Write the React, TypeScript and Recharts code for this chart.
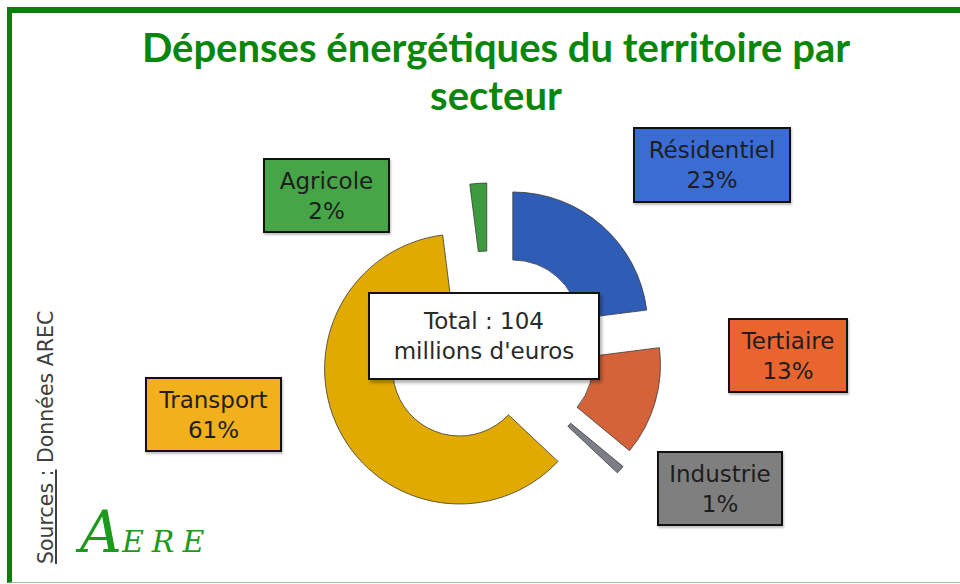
import React from "react";
import { PieChart, Pie, Cell } from "recharts";

// values (percent of total spending)
const sectors = ["Résidentiel", "Tertiaire", "Industrie", "Transport", "Agricole"];
const shares = [23, 13, 1, 61, 2];
const totalLines = ["Total : 104", "millions d'euros"];
const titleLines = ["Dépenses énergétiques du territoire par", "secteur"];

const sliceColors = ["#2f5cb4", "#d5633a", "#7b7e86", "#e0aa00", "#3d9b3d"];
const boxColors = ["#3b6cd3", "#ea6430", "#7f7f7f", "#f1b01c", "#46a546"];
// how far each slice is pulled out of the ring
const explode = [36, 38, 40, 33, 36];
const boxPos = [
  { left: 633, top: 127, width: 158, height: 76 },
  { left: 728, top: 318, width: 120, height: 75 },
  { left: 657, top: 451, width: 126, height: 75 },
  { left: 145, top: 377, width: 137, height: 75 },
  { left: 263, top: 158, width: 127, height: 75 },
];

const CX = 489;
const CY = 354;
const TITLE_FONT = 'Lato, "Noto Sans", sans-serif';
const FONT = '"DejaVu Sans", "Noto Sans", sans-serif';

const data = sectors.map((name, i) => ({ name, value: shares[i] }));
const total = shares.reduce((a, b) => a + b, 0);
let acc = 0;
const midAngles = shares.map((v) => {
  const m = ((acc + v / 2) / total) * 360;
  acc += v;
  return m;
});

function LabelBox({ i }: { i: number }) {
  const p = boxPos[i];
  return (
    <div
      style={{
        position: "absolute",
        left: p.left,
        top: p.top,
        width: p.width,
        height: p.height,
        boxSizing: "border-box",
        background: boxColors[i],
        border: "2px solid #111",
        boxShadow: "1px 2px 2px rgba(0,0,0,0.25)",
        display: "flex",
        flexDirection: "column",
        alignItems: "center",
        justifyContent: "center",
        fontFamily: FONT,
        fontSize: 23,
        lineHeight: "30px",
        color: "#1e1e1e",
        whiteSpace: "nowrap",
      }}
    >
      <span>{sectors[i]}</span>
      <span>{shares[i]}%</span>
    </div>
  );
}

export default function App() {
  return (
    <div
      style={{
        position: "absolute",
        left: 0,
        top: 0,
        width: 960,
        height: 584,
        overflow: "hidden",
        background: "#fff",
      }}
    >
      {/* frame */}
      <div
        style={{
          position: "absolute",
          left: 7,
          top: 7,
          width: 980,
          height: 576,
          boxSizing: "border-box",
          borderTop: "6px solid #0a800a",
          borderLeft: "5px solid #0a800a",
          borderBottom: "1px solid #9cc99c",
        }}
      />

      {/* title */}
      <div
        style={{
          position: "absolute",
          left: 0,
          top: 23,
          width: 992,
          textAlign: "center",
          fontFamily: TITLE_FONT,
          fontWeight: 700,
          fontSize: 40,
          lineHeight: "48px",
          color: "#0a870a",
        }}
      >
        {titleLines.map((t) => (
          <div key={t}>{t}</div>
        ))}
      </div>

      <div style={{ position: "absolute", left: 0, top: 0 }}>
        <PieChart width={960} height={584} margin={{ top: 0, right: 0, bottom: 0, left: 0 }}>
          {sectors.map((name, i) => {
            const a = (midAngles[i] * Math.PI) / 180;
            return (
              <Pie
                key={name}
                data={data}
                dataKey="value"
                nameKey="name"
                cx={CX + Math.sin(a) * explode[i]}
                cy={CY - Math.cos(a) * explode[i]}
                innerRadius={67}
                outerRadius={135}
                startAngle={90}
                endAngle={-270}
                stroke="none"
                legendType="none"
                isAnimationActive={false}
              >
                {data.map((d, j) => (
                  <Cell
                    key={d.name}
                    fill={j === i ? sliceColors[i] : "none"}
                    stroke={j === i ? "#3a3a3a" : "none"}
                    strokeWidth={0.8}
                  />
                ))}
              </Pie>
            );
          })}
        </PieChart>
      </div>

      {sectors.map((s, i) => (
        <LabelBox key={s} i={i} />
      ))}

      {/* total box */}
      <div
        style={{
          position: "absolute",
          left: 368,
          top: 292,
          width: 232,
          height: 88,
          boxSizing: "border-box",
          background: "#fff",
          border: "2px solid #111",
          boxShadow: "2px 3px 3px rgba(0,0,0,0.3)",
          display: "flex",
          flexDirection: "column",
          alignItems: "center",
          justifyContent: "center",
          fontFamily: FONT,
          fontSize: 23,
          lineHeight: "30px",
          color: "#2a2a2a",
          whiteSpace: "nowrap",
        }}
      >
        {totalLines.map((t) => (
          <span key={t}>{t}</span>
        ))}
      </div>

      {/* source, written bottom to top */}
      <div
        style={{
          position: "absolute",
          left: 34,
          top: 564,
          transform: "rotate(-90deg)",
          transformOrigin: "0 0",
          whiteSpace: "nowrap",
          fontFamily: FONT,
          fontSize: 20.5,
          lineHeight: "24px",
          color: "#404040",
        }}
      >
        <span style={{ textDecoration: "underline" }}>Sources :</span> Données AREC
      </div>

      {/* logo */}
      <div
        style={{
          position: "absolute",
          left: 80,
          top: 498,
          fontFamily: '"DejaVu Serif", serif',
          fontStyle: "italic",
          color: "#1c9a1c",
          whiteSpace: "nowrap",
        }}
      >
        <span style={{ fontSize: 58 }}>A</span>
        <span style={{ fontSize: 30, letterSpacing: 8 }}>ERE</span>
      </div>
    </div>
  );
}
